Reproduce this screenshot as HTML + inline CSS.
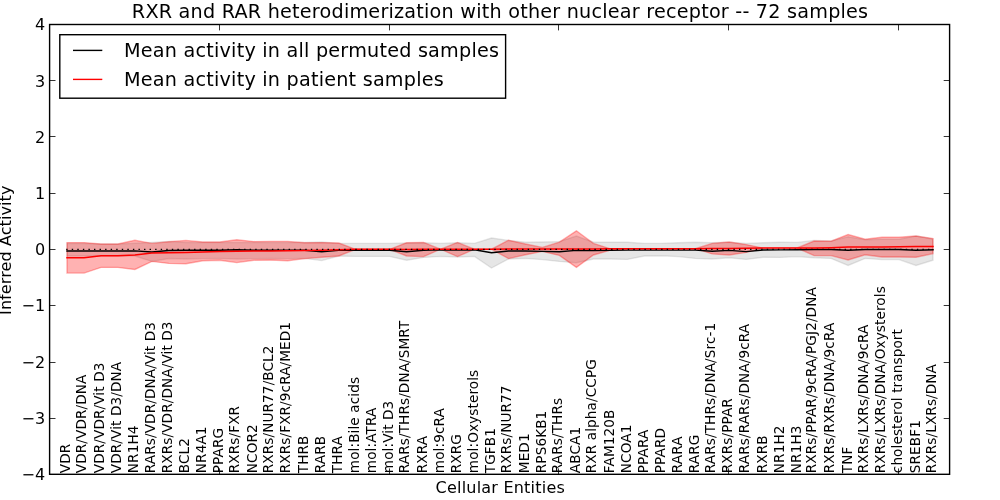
<!DOCTYPE html>
<html><head><meta charset="utf-8"><title>RXR and RAR heterodimerization</title>
<style>html,body{margin:0;padding:0;background:#fff;}svg{display:block;}text{font-family:"DejaVu Sans","Liberation Sans",sans-serif;fill:#000;}</style></head>
<body>
<svg width="1000" height="500" viewBox="0 0 1000 500">
<rect width="1000" height="500" fill="#fff"/>
<polygon points="67.0,243.5 84.0,243.5 101.0,244.0 117.9,244.0 134.9,243.2 151.9,242.4 168.9,241.4 185.9,242.5 202.8,242.5 219.8,242.5 236.8,242.5 253.8,242.5 270.8,242.5 287.7,242.5 304.7,242.5 321.7,242.0 338.7,243.4 355.7,243.4 372.6,243.4 389.6,243.4 406.6,243.0 423.6,242.8 440.6,243.4 457.5,242.8 474.5,243.4 491.5,238.0 508.5,240.4 525.5,242.2 542.4,242.0 559.4,241.6 576.4,236.0 593.4,242.2 610.4,242.2 627.3,242.2 644.3,243.4 661.3,243.4 678.3,242.8 695.3,242.2 712.2,242.8 729.2,242.2 746.2,243.4 763.2,242.8 780.2,242.2 797.1,242.4 814.1,240.4 831.1,241.0 848.1,236.8 865.1,239.8 882.0,239.2 899.0,239.2 916.0,236.0 933.0,239.2 933.0,260.2 916.0,265.4 899.0,259.6 882.0,259.6 865.1,258.4 848.1,265.4 831.1,258.4 814.1,257.8 797.1,256.6 780.2,257.4 763.2,257.2 746.2,259.4 729.2,257.8 712.2,259.0 695.3,258.4 678.3,256.6 661.3,255.8 644.3,256.0 627.3,259.4 610.4,259.0 593.4,259.0 576.4,262.8 559.4,261.4 542.4,259.6 525.5,258.4 508.5,259.0 491.5,268.0 474.5,256.4 457.5,257.0 440.6,256.4 423.6,257.4 406.6,260.2 389.6,256.4 372.6,256.4 355.7,256.4 338.7,256.0 321.7,260.6 304.7,258.4 287.7,258.6 270.8,258.5 253.8,258.6 236.8,259.0 219.8,258.4 202.8,258.6 185.9,259.0 168.9,258.5 151.9,261.4 134.9,256.0 117.9,256.0 101.0,256.0 84.0,256.0 67.0,256.0" fill="rgb(128,128,128)" fill-opacity="0.2" stroke="rgb(128,128,128)" stroke-opacity="0.2" stroke-width="1.4"/>
<polygon points="67.0,242.6 84.0,242.6 101.0,244.0 117.9,244.0 134.9,240.2 151.9,243.4 168.9,241.7 185.9,240.4 202.8,242.0 219.8,242.0 236.8,239.8 253.8,241.6 270.8,241.4 287.7,241.4 304.7,242.8 321.7,242.6 338.7,243.0 355.7,249.3 372.6,249.3 389.6,249.3 406.6,242.8 423.6,242.4 440.6,249.2 457.5,242.4 474.5,249.2 491.5,249.2 508.5,240.2 525.5,244.0 542.4,247.4 559.4,242.2 576.4,230.8 593.4,243.4 610.4,248.8 627.3,248.7 644.3,248.7 661.3,248.7 678.3,248.7 695.3,248.7 712.2,243.4 729.2,242.0 746.2,244.6 763.2,248.1 780.2,248.0 797.1,248.0 814.1,241.0 831.1,241.2 848.1,234.6 865.1,239.2 882.0,237.2 899.0,237.2 916.0,236.0 933.0,238.6 933.0,253.6 916.0,257.2 899.0,257.0 882.0,257.0 865.1,254.8 848.1,260.0 831.1,255.6 814.1,255.6 797.1,248.0 780.2,248.0 763.2,248.1 746.2,252.4 729.2,255.0 712.2,253.9 695.3,248.7 678.3,248.7 661.3,248.7 644.3,248.7 627.3,248.7 610.4,250.2 593.4,255.0 576.4,267.4 559.4,255.4 542.4,251.4 525.5,254.8 508.5,258.6 491.5,249.2 474.5,249.2 457.5,256.6 440.6,249.2 423.6,256.6 406.6,256.0 389.6,249.3 372.6,249.3 355.7,249.3 338.7,256.0 321.7,257.2 304.7,258.6 287.7,260.8 270.8,260.0 253.8,260.2 236.8,262.6 219.8,260.2 202.8,260.8 185.9,263.8 168.9,263.4 151.9,261.4 134.9,269.5 117.9,267.4 101.0,267.4 84.0,273.1 67.0,273.1" fill="rgb(255,0,0)" fill-opacity="0.3" stroke="rgb(255,0,0)" stroke-opacity="0.3" stroke-width="1.4"/>
<polyline points="67.0,250.9 84.0,250.9 101.0,250.9 117.9,250.9 134.9,250.9 151.9,251.9 168.9,250.5 185.9,250.2 202.8,250.2 219.8,250.2 236.8,249.8 253.8,250.2 270.8,250.2 287.7,250.2 304.7,250.3 321.7,251.7 338.7,250.4 355.7,250.3 372.6,250.3 389.6,250.3 406.6,251.8 423.6,250.2 440.6,249.8 457.5,250.0 474.5,249.7 491.5,252.7 508.5,251.0 525.5,251.0 542.4,251.4 559.4,251.8 576.4,250.4 593.4,250.6 610.4,250.4 627.3,250.1 644.3,250.1 661.3,250.1 678.3,250.1 695.3,250.1 712.2,251.2 729.2,250.4 746.2,251.6 763.2,250.0 780.2,249.9 797.1,249.8 814.1,249.5 831.1,249.5 848.1,250.3 865.1,249.5 882.0,249.5 899.0,249.5 916.0,250.3 933.0,249.7" fill="none" stroke="#000" stroke-width="1.45" stroke-linejoin="miter" stroke-linecap="square"/>
<polyline points="67.0,257.8 84.0,257.8 101.0,255.8 117.9,255.8 134.9,255.1 151.9,253.0 168.9,252.8 185.9,252.4 202.8,252.0 219.8,251.6 236.8,251.2 253.8,251.0 270.8,250.9 287.7,250.7 304.7,250.5 321.7,250.2 338.7,249.8 355.7,249.3 372.6,249.3 389.6,249.3 406.6,249.4 423.6,249.3 440.6,249.2 457.5,249.2 474.5,249.2 491.5,249.2 508.5,249.1 525.5,249.1 542.4,249.1 559.4,249.0 576.4,249.0 593.4,248.9 610.4,248.8 627.3,248.7 644.3,248.7 661.3,248.7 678.3,248.7 695.3,248.7 712.2,248.5 729.2,248.4 746.2,248.3 763.2,248.1 780.2,248.0 797.1,248.0 814.1,248.0 831.1,247.7 848.1,247.1 865.1,247.0 882.0,246.9 899.0,246.8 916.0,246.6 933.0,246.4" fill="none" stroke="#f00" stroke-width="1.5" stroke-linejoin="miter" stroke-linecap="square"/>
<line x1="66.2" y1="249.4" x2="933.7" y2="249.4" stroke="#000" stroke-width="1.4" stroke-dasharray="1.39 4.17"/>
<text transform="translate(70.0,473.2) rotate(-90)" font-size="13.6" letter-spacing="0.11">VDR</text>
<text transform="translate(86.0,473.2) rotate(-90)" font-size="13.6" letter-spacing="0.11">VDR/VDR/DNA</text>
<text transform="translate(104.0,473.2) rotate(-90)" font-size="13.6" letter-spacing="0.11">VDR/VDR/Vit D3</text>
<text transform="translate(121.0,473.2) rotate(-90)" font-size="13.6" letter-spacing="0.11">VDR/Vit D3/DNA</text>
<text transform="translate(138.0,473.2) rotate(-90)" font-size="13.6" letter-spacing="0.11">NR1H4</text>
<text transform="translate(155.0,473.2) rotate(-90)" font-size="13.6" letter-spacing="0.11">RARs/VDR/DNA/Vit D3</text>
<text transform="translate(172.0,473.2) rotate(-90)" font-size="13.6" letter-spacing="0.11">RXRs/VDR/DNA/Vit D3</text>
<text transform="translate(189.0,473.2) rotate(-90)" font-size="13.6" letter-spacing="0.11">BCL2</text>
<text transform="translate(206.0,473.2) rotate(-90)" font-size="13.6" letter-spacing="0.11">NR4A1</text>
<text transform="translate(223.0,473.2) rotate(-90)" font-size="13.6" letter-spacing="0.11">PPARG</text>
<text transform="translate(239.0,473.2) rotate(-90)" font-size="13.6" letter-spacing="0.11">RXRs/FXR</text>
<text transform="translate(257.0,473.2) rotate(-90)" font-size="13.6" letter-spacing="0.11">NCOR2</text>
<text transform="translate(273.0,473.2) rotate(-90)" font-size="13.6" letter-spacing="0.11">RXRs/NUR77/BCL2</text>
<text transform="translate(290.0,473.2) rotate(-90)" font-size="13.6" letter-spacing="0.11">RXRs/FXR/9cRA/MED1</text>
<text transform="translate(308.0,473.2) rotate(-90)" font-size="13.6" letter-spacing="0.11">THRB</text>
<text transform="translate(325.0,473.2) rotate(-90)" font-size="13.6" letter-spacing="0.11">RARB</text>
<text transform="translate(342.0,473.2) rotate(-90)" font-size="13.6" letter-spacing="0.11">THRA</text>
<text transform="translate(359.0,473.2) rotate(-90)" font-size="13.6" letter-spacing="0.11">mol:Bile acids</text>
<text transform="translate(376.0,473.2) rotate(-90)" font-size="13.6" letter-spacing="0.11">mol:ATRA</text>
<text transform="translate(393.0,473.2) rotate(-90)" font-size="13.6" letter-spacing="0.11">mol:Vit D3</text>
<text transform="translate(409.0,473.2) rotate(-90)" font-size="13.6" letter-spacing="0.11">RARs/THRs/DNA/SMRT</text>
<text transform="translate(427.0,473.2) rotate(-90)" font-size="13.6" letter-spacing="0.11">RXRA</text>
<text transform="translate(444.0,473.2) rotate(-90)" font-size="13.6" letter-spacing="0.11">mol:9cRA</text>
<text transform="translate(461.0,473.2) rotate(-90)" font-size="13.6" letter-spacing="0.11">RXRG</text>
<text transform="translate(478.0,473.2) rotate(-90)" font-size="13.6" letter-spacing="0.11">mol:Oxysterols</text>
<text transform="translate(495.0,473.2) rotate(-90)" font-size="13.6" letter-spacing="0.11">TGFB1</text>
<text transform="translate(511.0,473.2) rotate(-90)" font-size="13.6" letter-spacing="0.11">RXRs/NUR77</text>
<text transform="translate(529.0,473.2) rotate(-90)" font-size="13.6" letter-spacing="0.11">MED1</text>
<text transform="translate(546.0,473.2) rotate(-90)" font-size="13.6" letter-spacing="0.11">RPS6KB1</text>
<text transform="translate(562.0,473.2) rotate(-90)" font-size="13.6" letter-spacing="0.11">RARs/THRs</text>
<text transform="translate(580.0,473.2) rotate(-90)" font-size="13.6" letter-spacing="0.11">ABCA1</text>
<text transform="translate(596.0,473.2) rotate(-90)" font-size="13.6" letter-spacing="0.11">RXR alpha/CCPG</text>
<text transform="translate(614.0,473.2) rotate(-90)" font-size="13.6" letter-spacing="0.11">FAM120B</text>
<text transform="translate(631.0,473.2) rotate(-90)" font-size="13.6" letter-spacing="0.11">NCOA1</text>
<text transform="translate(648.0,473.2) rotate(-90)" font-size="13.6" letter-spacing="0.11">PPARA</text>
<text transform="translate(665.0,473.2) rotate(-90)" font-size="13.6" letter-spacing="0.11">PPARD</text>
<text transform="translate(682.0,473.2) rotate(-90)" font-size="13.6" letter-spacing="0.11">RARA</text>
<text transform="translate(699.0,473.2) rotate(-90)" font-size="13.6" letter-spacing="0.11">RARG</text>
<text transform="translate(715.0,473.2) rotate(-90)" font-size="13.6" letter-spacing="0.11">RARs/THRs/DNA/Src-1</text>
<text transform="translate(732.0,473.2) rotate(-90)" font-size="13.6" letter-spacing="0.11">RXRs/PPAR</text>
<text transform="translate(749.0,473.2) rotate(-90)" font-size="13.6" letter-spacing="0.11">RARs/RARs/DNA/9cRA</text>
<text transform="translate(767.0,473.2) rotate(-90)" font-size="13.6" letter-spacing="0.11">RXRB</text>
<text transform="translate(784.0,473.2) rotate(-90)" font-size="13.6" letter-spacing="0.11">NR1H2</text>
<text transform="translate(801.0,473.2) rotate(-90)" font-size="13.6" letter-spacing="0.11">NR1H3</text>
<text transform="translate(816.0,473.2) rotate(-90)" font-size="13.6" letter-spacing="0.11">RXRs/PPAR/9cRA/PGJ2/DNA</text>
<text transform="translate(834.0,473.2) rotate(-90)" font-size="13.6" letter-spacing="0.11">RXRs/RXRs/DNA/9cRA</text>
<text transform="translate(852.0,473.2) rotate(-90)" font-size="13.6" letter-spacing="0.11">TNF</text>
<text transform="translate(868.0,473.2) rotate(-90)" font-size="13.6" letter-spacing="0.11">RXRs/LXRs/DNA/9cRA</text>
<text transform="translate(885.0,473.2) rotate(-90)" font-size="13.6" letter-spacing="0.11">RXRs/LXRs/DNA/Oxysterols</text>
<text transform="translate(902.0,473.2) rotate(-90)" font-size="13.6" letter-spacing="0.11">cholesterol transport</text>
<text transform="translate(920.0,473.2) rotate(-90)" font-size="13.6" letter-spacing="0.11">SREBF1</text>
<text transform="translate(936.0,473.2) rotate(-90)" font-size="13.6" letter-spacing="0.11">RXRs/LXRs/DNA</text>
<rect x="49.6" y="24.5" width="900.0" height="449.8" fill="none" stroke="#000" stroke-width="1.4"/>
<path d="M49.6 24.50h5.9M949.6 24.50h-5.9M49.6 80.50h5.9M949.6 80.50h-5.9M49.6 136.50h5.9M949.6 136.50h-5.9M49.6 193.50h5.9M949.6 193.50h-5.9M49.6 249.50h5.9M949.6 249.50h-5.9M49.6 305.50h5.9M949.6 305.50h-5.9M49.6 362.50h5.9M949.6 362.50h-5.9M49.6 418.50h5.9M949.6 418.50h-5.9M49.6 474.50h5.9M949.6 474.50h-5.9M219.5 24.5v5.9M219.5 474.3v-5.9M389.5 24.5v5.9M389.5 474.3v-5.9M558.5 24.5v5.9M558.5 474.3v-5.9M728.5 24.5v5.9M728.5 474.3v-5.9M898.5 24.5v5.9M898.5 474.3v-5.9" stroke="#000" stroke-width="0.8" fill="none"/>
<text x="45.1" y="30.3" font-size="16" text-anchor="end">4</text>
<text x="45.1" y="86.5" font-size="16" text-anchor="end">3</text>
<text x="45.1" y="142.8" font-size="16" text-anchor="end">2</text>
<text x="45.1" y="199.0" font-size="16" text-anchor="end">1</text>
<text x="45.1" y="255.2" font-size="16" text-anchor="end">0</text>
<text x="45.1" y="311.4" font-size="16" text-anchor="end">−1</text>
<text x="45.1" y="367.7" font-size="16" text-anchor="end">−2</text>
<text x="45.1" y="423.9" font-size="16" text-anchor="end">−3</text>
<text x="45.1" y="480.1" font-size="16" text-anchor="end">−4</text>
<text x="500.1" y="18" font-size="19.2" text-anchor="middle" letter-spacing="0.22">RXR and RAR heterodimerization with other nuclear receptor -- 72 samples</text>
<text x="500.3" y="492.7" font-size="16" text-anchor="middle" letter-spacing="0.21">Cellular Entities</text>
<text transform="translate(11.1,250.2) rotate(-90)" font-size="16" text-anchor="middle" letter-spacing="0.1">Inferred Activity</text>
<rect x="59.8" y="34.7" width="445.8" height="63.5" fill="#fff" stroke="#000" stroke-width="1.4"/>
<line x1="73" y1="50.4" x2="102.3" y2="50.4" stroke="#000" stroke-width="1.4"/>
<line x1="73" y1="79.4" x2="102.3" y2="79.4" stroke="#f00" stroke-width="1.4"/>
<text x="124.0" y="56.6" font-size="19.2" letter-spacing="0.22">Mean activity in all permuted samples</text>
<text x="124.0" y="85.7" font-size="19.2" letter-spacing="0.22">Mean activity in patient samples</text>
</svg>
</body></html>
